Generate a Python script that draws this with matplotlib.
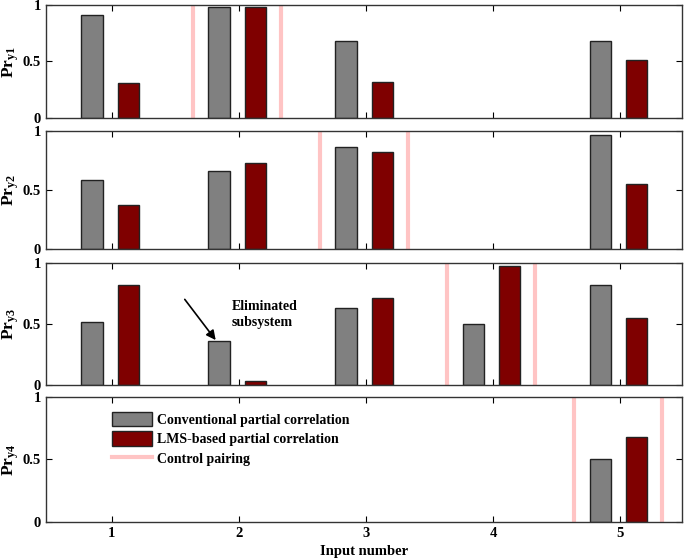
import matplotlib
matplotlib.use('Agg')
import numpy as np
from matplotlib import pyplot as plt

plt.rcParams['font.family'] = ['Liberation Serif', 'DejaVu Serif']
plt.rcParams['font.weight'] = 'bold'
plt.rcParams['mathtext.fontset'] = 'custom'
plt.rcParams['mathtext.rm'] = 'Liberation Serif:bold'
plt.rcParams['mathtext.bf'] = 'Liberation Serif:bold'
plt.rcParams['mathtext.it'] = 'Liberation Serif:bold'

inputs = [1, 2, 3, 4, 5]
outputs = ['y1', 'y2', 'y3', 'y4']
# nan = no bar for that input
conventional = [
    [0.91, 0.98, 0.68, np.nan, 0.68],
    [0.585, 0.66, 0.865, np.nan, 0.965],
    [0.515, 0.36, 0.63, 0.50, 0.82],
    [np.nan, np.nan, np.nan, np.nan, 0.50],
]
lms_based = [
    [0.31, 0.98, 0.32, np.nan, 0.51],
    [0.37, 0.73, 0.82, np.nan, 0.55],
    [0.82, 0.033, 0.71, 0.975, 0.548],
    [np.nan, np.nan, np.nan, np.nan, 0.68],
]
# input paired with each output
pairing = [2, 3, 4, 5]

gray = '#808080'
dark_red = '#7f0000'
pink = '#ffc4c4'

fig = plt.figure(figsize=(6.85, 5.59), dpi=100)
left, right = 0.067, 0.996
rows = [(0.789, 0.991), (0.5546, 0.766), (0.3113, 0.5295), (0.0662, 0.2898)]

axes = []
for k, (b, t) in enumerate(rows):
    ax = fig.add_axes([left, b, right - left, t - b])
    axes.append(ax)
    x = np.array(inputs, dtype=float)
    h1 = ax.bar(x - 0.155, conventional[k], width=0.17, color=gray,
                edgecolor='#222222', linewidth=1.0, label='Conventional partial correlation')
    h2 = ax.bar(x + 0.13, lms_based[k], width=0.17, color=dark_red,
                edgecolor='#222222', linewidth=1.0, label='LMS-based partial correlation')
    p = pairing[k]
    h3 = ax.axvline(p - 0.36, color=pink, linewidth=3, label='Control pairing')
    ax.axvline(p + 0.33, color=pink, linewidth=3)
    ax.set_xlim(0.48, 5.49)
    ax.set_ylim(0, 1)
    ax.set_yticks([0, 0.5, 1])
    ax.set_yticklabels(['0', '0.5', '1'])
    ax.set_xticks(inputs)
    ax.tick_params(direction='in', top=True, right=True, length=4, labelsize=10.5)
    for lab in ax.get_yticklabels() + ax.get_xticklabels():
        lab.set_fontweight('bold')
    if k < 3:
        ax.set_xticklabels([])
    ax.set_ylabel(r'$\mathbf{Pr}_{\mathbf{' + outputs[k] + '}}$', fontsize=12.5, labelpad=1)
    for s in ax.spines.values():
        s.set_color('#333333')
        s.set_linewidth(1.0)

axes[-1].set_xlabel('Input number', fontsize=10.5, fontweight='bold', labelpad=4)
axes[-1].legend(handles=[h1, h2, h3], loc='upper left', bbox_to_anchor=(0.088, 0.96),
                frameon=False, prop={'weight': 'bold', 'size': 10},
                handlelength=2.9, handleheight=1.2, handletextpad=0.35,
                labelspacing=0.35, borderpad=0.2)

axes[2].annotate('Eliminated\nsubsystem', xy=(1.83, 0.35), xytext=(1.94, 0.58),
                 fontsize=10, fontweight='bold', ha='left', va='center', linespacing=1.3)
axes[2].annotate('', xy=(1.83, 0.35), xytext=(1.56, 0.72),
                 arrowprops=dict(arrowstyle='-|>', color='black', lw=1.2, mutation_scale=14))

fig.savefig('out.png', dpi=100)
